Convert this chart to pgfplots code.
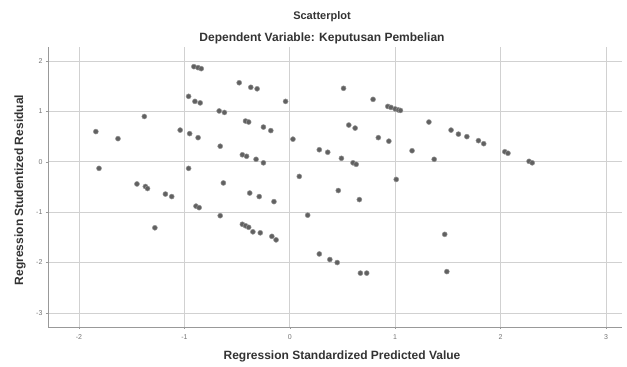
\documentclass[border=0pt]{standalone}
\usepackage{pgfplots}
\pgfplotsset{compat=1.18}
\usepackage{fontspec}
\setmainfont{Liberation Sans}
\begin{document}
\begin{tikzpicture}[x=1pt,y=1pt]
\useasboundingbox (-48,-40) rectangle (579,327);
\begin{axis}[at={(0,0)}, anchor=south west, scale only axis,
 width=574pt, height=280pt,
 xmin=-2.294, xmax=3.152, ymin=-3.28, ymax=2.28,
 xtick={-2,-1,0,1,2,3}, ytick={-3,-2,-1,0,1,2},
 grid=major, major grid style={draw=black!18, line width=0.7pt},
 axis x line*=bottom, axis y line*=left,
 axis line style={draw=black!40, line width=0.7pt, -},
 tick style={draw=black!40}, tick align=outside, major tick length=2pt,
 ticklabel style={font=\fontsize{7}{8}\selectfont, text=black!55},
 /pgf/number format/assume math mode=true,
 xticklabel style={yshift=-2pt},
 clip=false]
\addplot[only marks, mark=*, mark size=2.5pt,
  mark options={fill=black!62, draw=black!42, line width=0.5pt}] coordinates {
(-1.84,0.60) (-1.63,0.46) (-1.38,0.90) (-1.81,-0.13) (-1.45,-0.44)
(-1.37,-0.49) (-1.35,-0.53) (-1.18,-0.64) (-1.12,-0.69) (-1.28,-1.31)
(-1.04,0.63) (-0.95,0.56) (-0.87,0.48) (-0.96,1.30) (-0.90,1.20)
(-0.85,1.17) (-0.91,1.89) (-0.87,1.87) (-0.84,1.85) (-0.96,-0.13)
(-0.89,-0.88) (-0.86,-0.91) (-0.66,0.31) (-0.67,1.01) (-0.62,0.98)
(-0.48,1.57) (-0.37,1.48) (-0.31,1.45) (-0.42,0.81) (-0.39,0.79)
(-0.45,0.14) (-0.41,0.11) (-0.32,0.05) (-0.25,-0.02) (-0.63,-0.42)
(-0.66,-1.07) (-0.38,-0.62) (-0.29,-0.69) (-0.15,-0.79) (-0.45,-1.24)
(-0.42,-1.27) (-0.39,-1.30) (-0.35,-1.39) (-0.28,-1.41) (-0.17,-1.48)
(-0.13,-1.55) (-0.04,1.20) (-0.25,0.69) (-0.18,0.62) (0.03,0.45)
(0.09,-0.29) (0.17,-1.06) (0.28,0.24) (0.36,0.19) (0.49,0.07)
(0.60,-0.02) (0.63,-0.05) (0.51,1.46) (0.79,1.24) (0.93,1.10)
(0.96,1.08) (1.00,1.05) (1.03,1.03) (1.05,1.02) (0.56,0.73)
(0.62,0.67) (0.84,0.48) (0.94,0.41) (1.16,0.22) (1.32,0.79)
(1.37,0.05) (1.01,-0.35) (0.46,-0.57) (0.66,-0.75) (0.28,-1.83)
(0.38,-1.94) (0.45,-2.00) (0.67,-2.21) (0.73,-2.21) (1.47,-1.44)
(1.49,-2.18) (1.53,0.63) (1.60,0.55) (1.68,0.50) (1.79,0.42)
(1.84,0.36) (2.04,0.20) (2.07,0.17) (2.27,0.01) (2.30,-0.02)
};
\end{axis}
\node[font=\bfseries\fontsize{11}{13}\selectfont, text=black!80] at (274,310) {Scatterplot};
\node[font=\bfseries\fontsize{12}{14}\selectfont, text=black!80] at (274,289) {Dependent Variable: Keputusan Pembelian};
\node[font=\bfseries\fontsize{12}{14}\selectfont, text=black!80] at (294,-29) {Regression Standardized Predicted Value};
\node[font=\bfseries\fontsize{12}{14}\selectfont, text=black!80, rotate=90] at (-28,137) {Regression Studentized Residual};
\end{tikzpicture}
\end{document}
